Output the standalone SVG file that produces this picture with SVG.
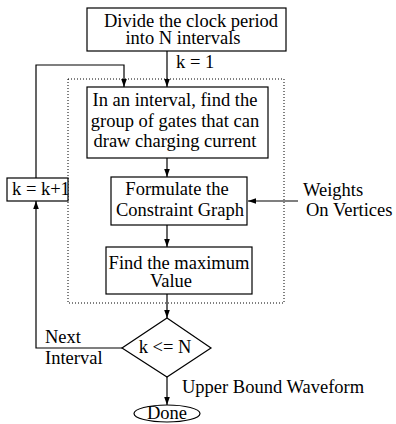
<svg xmlns="http://www.w3.org/2000/svg" width="396" height="424" viewBox="0 0 396 424">
<style>
.b{fill:#fff;stroke:#000;stroke-width:1.2}
.l{fill:none;stroke:#000;stroke-width:1.2}
.t{font-family:"Liberation Serif","Times New Roman",serif;font-size:18.5px;fill:#000}
.c{text-anchor:middle}
</style>
<defs>
<marker id="a" viewBox="0 0 10 10" refX="10" refY="5" markerWidth="8" markerHeight="8" markerUnits="userSpaceOnUse" orient="auto">
<path d="M0,1.5 L10,5 L0,8.5 Z" fill="#000"/>
</marker>
</defs>
<rect x="68" y="79" width="216" height="224" fill="none" stroke="#000" stroke-width="1" stroke-dasharray="1,2"/>
<g id="connectors">
<path class="l" d="M167,51 V87" marker-end="url(#a)"/>
<path class="l" d="M36,178 V65 H124 V87" marker-end="url(#a)"/>
<path class="l" d="M167,158 V177" marker-end="url(#a)"/>
<path class="l" d="M298,201 H248" marker-end="url(#a)"/>
<path class="l" d="M167,225 V247" marker-end="url(#a)"/>
<path class="l" d="M167,294 V318" marker-end="url(#a)"/>
<path class="l" d="M122,348 H36 V201" marker-end="url(#a)"/>
<path class="l" d="M167,377 V405" marker-end="url(#a)"/>
<text class="t" x="176" y="68">k = 1</text>
<text class="t" x="45" y="343">Next</text>
<text class="t" x="45" y="364">Interval</text>
<text class="t" x="182" y="393">Upper Bound Waveform</text>
</g>
<g id="divide">
<rect class="b" x="87" y="8" width="199" height="43"/>
<text class="t c" x="191" y="27">Divide the clock period</text>
<text class="t c" x="183" y="44">into N intervals</text>
</g>
<g id="find-group">
<rect class="b" x="87" y="87" width="181" height="71"/>
<text class="t c" x="175" y="106">In an interval, find the</text>
<text class="t c" x="175" y="127">group of gates that can</text>
<text class="t c" x="175" y="147">draw charging current</text>
</g>
<g id="formulate">
<rect class="b" x="111" y="177" width="136" height="48"/>
<text class="t c" x="177" y="195">Formulate the</text>
<text class="t c" x="180" y="216">Constraint Graph</text>
</g>
<g id="weights">
<text class="t" x="303" y="196">Weights</text>
<text class="t" x="306" y="216">On Vertices</text>
</g>
<g id="increment">
<rect class="b" x="7" y="178" width="61" height="23"/>
<text class="t" x="12" y="195">k = k+1</text>
</g>
<g id="find-max">
<rect class="b" x="106" y="247" width="146" height="47"/>
<text class="t c" x="179" y="269">Find the maximum</text>
<text class="t c" x="171" y="287">Value</text>
</g>
<g id="decision">
<path class="b" d="M167,318 L211,348 L167,377 L122,348 Z"/>
<text class="t c" x="165" y="353">k &lt;= N</text>
</g>
<g id="done">
<ellipse class="b" cx="167" cy="413.5" rx="33" ry="8.5"/>
<text class="t c" x="167" y="419">Done</text>
</g>
</svg>
